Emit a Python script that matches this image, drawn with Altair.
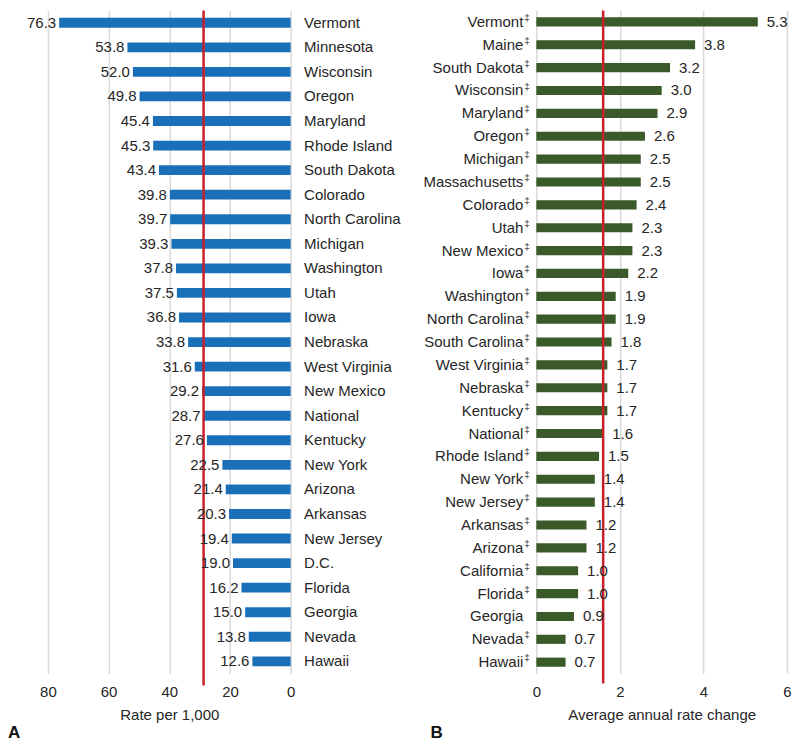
import altair as alt
import pandas as pd

states_a = ["Vermont", "Minnesota", "Wisconsin", "Oregon", "Maryland", "Rhode Island",
            "South Dakota", "Colorado", "North Carolina", "Michigan", "Washington", "Utah",
            "Iowa", "Nebraska", "West Virginia", "New Mexico", "National", "Kentucky",
            "New York", "Arizona", "Arkansas", "New Jersey", "D.C.", "Florida", "Georgia",
            "Nevada", "Hawaii"]
rates_a = [76.3, 53.8, 52.0, 49.8, 45.4, 45.3, 43.4, 39.8, 39.7, 39.3, 37.8, 37.5, 36.8,
           33.8, 31.6, 29.2, 28.7, 27.6, 22.5, 21.4, 20.3, 19.4, 19.0, 16.2, 15.0, 13.8, 12.6]

states_b = ["Vermont‡", "Maine‡", "South Dakota‡", "Wisconsin‡", "Maryland‡", "Oregon‡",
            "Michigan‡", "Massachusetts‡", "Colorado‡", "Utah‡", "New Mexico‡", "Iowa‡",
            "Washington‡", "North Carolina‡", "South Carolina‡", "West Virginia‡",
            "Nebraska‡", "Kentucky‡", "National‡", "Rhode Island‡", "New York‡",
            "New Jersey‡", "Arkansas‡", "Arizona‡", "California‡", "Florida‡", "Georgia",
            "Nevada‡", "Hawaii‡"]
changes_b = [5.3, 3.8, 3.2, 3.0, 2.9, 2.6, 2.5, 2.5, 2.4, 2.3, 2.3, 2.2, 1.9, 1.9, 1.8,
             1.7, 1.7, 1.7, 1.6, 1.5, 1.4, 1.4, 1.2, 1.2, 1.0, 1.0, 0.9, 0.7, 0.7]

ticks_a = [0, 20, 40, 60, 80]
ticks_b = [0, 2, 4, 6]
panel_labels = ["A", "B"]

FONT = "Liberation Sans"
TXT = "#262626"
BLUE = "#1a70b8"
GREEN = "#3b5a2a"
RED = "#c8202a"
H = 664
WA = 243
WB = 251

df_a = pd.DataFrame({"state": states_a, "rate": rates_a})
df_b = pd.DataFrame({"state": states_b, "change": changes_b})
df_b["name"] = df_b["state"].str.replace("‡", "", regex=False)
df_b["mark"] = ["‡" if s.endswith("‡") else "" for s in states_b]
nat_a = pd.DataFrame({"rate": [rates_a[states_a.index("National")]]})
nat_b = pd.DataFrame({"change": [changes_b[states_b.index("National‡")]]})

xaxis_common = dict(ticks=False, domain=False, labelPadding=11, labelFontSize=15,
                    labelColor=TXT, labelFont=FONT, labelFlush=False, grid=True,
                    gridColor="#d9d9d9", gridWidth=1.5, titleFontSize=15, titleFont=FONT,
                    titleColor=TXT, titleFontWeight="normal", titlePadding=8)

# ---- Panel A ----
xa = alt.X("rate:Q", title="Rate per 1,000",
           scale=alt.Scale(domain=[0, 80], reverse=True, nice=False),
           axis=alt.Axis(values=ticks_a, **xaxis_common))
ya = alt.Y("state:N", sort=None, title=None,
           scale=alt.Scale(paddingInner=0.6, paddingOuter=0.3),
           axis=alt.Axis(orient="right", ticks=False, domain=False, labelPadding=13,
                         labelFontSize=15, labelColor=TXT, labelFont=FONT, grid=False))

base_a = alt.Chart(df_a)
bars_a = base_a.mark_bar(color=BLUE).encode(x=xa, y=ya)
text_a = base_a.mark_text(align="right", baseline="middle", dx=-3, fontSize=15,
                          font=FONT, color=TXT).encode(
    x=xa, y=ya, text=alt.Text("rate:Q", format=".1f"))
rule_a = alt.Chart(nat_a).mark_rule(color=RED, strokeWidth=2.5).encode(
    x=xa, y=alt.value(0), y2=alt.value(H + 12))
lab_a = alt.Chart(pd.DataFrame({"t": [panel_labels[0]]})).mark_text(
    align="left", baseline="alphabetic", fontSize=17, fontWeight="bold",
    font=FONT, color="#111111").encode(
    x=alt.value(-40), y=alt.value(H + 64), text="t:N")

panel_a = alt.layer(bars_a, rule_a, text_a, lab_a).properties(width=WA, height=H)

# ---- Panel B ----
xb = alt.X("change:Q", title="Average annual rate change",
           scale=alt.Scale(domain=[0, 6], nice=False),
           axis=alt.Axis(values=ticks_b, **xaxis_common))
yb = alt.Y("state:N", sort=None, title=None,
           scale=alt.Scale(paddingInner=0.6, paddingOuter=0.3), axis=None)

base_b = alt.Chart(df_b)
bars_b = base_b.mark_bar(color=GREEN).encode(x=xb, y=yb)
text_b = base_b.mark_text(align="left", baseline="middle", dx=9, fontSize=15,
                          font=FONT, color=TXT).encode(
    x=xb, y=yb, text=alt.Text("change:Q", format=".1f"))
names_b = base_b.mark_text(align="right", baseline="middle", fontSize=15,
                           font=FONT, color=TXT).encode(
    x=alt.value(-13), y=yb, text="name:N")
dag_b = base_b.mark_text(align="left", baseline="middle", fontSize=10, dy=-4,
                         font=FONT, color=TXT).encode(
    x=alt.value(-12), y=yb, text="mark:N")
rule_b = alt.Chart(nat_b).mark_rule(color=RED, strokeWidth=2.5).encode(
    x=xb, y=alt.value(0), y2=alt.value(H + 10))
lab_b = alt.Chart(pd.DataFrame({"t": [panel_labels[1]]})).mark_text(
    align="left", baseline="alphabetic", fontSize=17, fontWeight="bold",
    font=FONT, color="#111111").encode(
    x=alt.value(-106), y=alt.value(H + 64), text="t:N")

panel_b = alt.layer(bars_b, rule_b, text_b, names_b, dag_b, lab_b).properties(
    width=WB, height=H)

chart = alt.hconcat(panel_a, panel_b, spacing=22).properties(
    padding={"left": 0, "top": 0, "right": 0, "bottom": 0}
).configure_view(stroke=None)

chart.save("out.html", embed_options={"renderer": "svg", "actions": False})
